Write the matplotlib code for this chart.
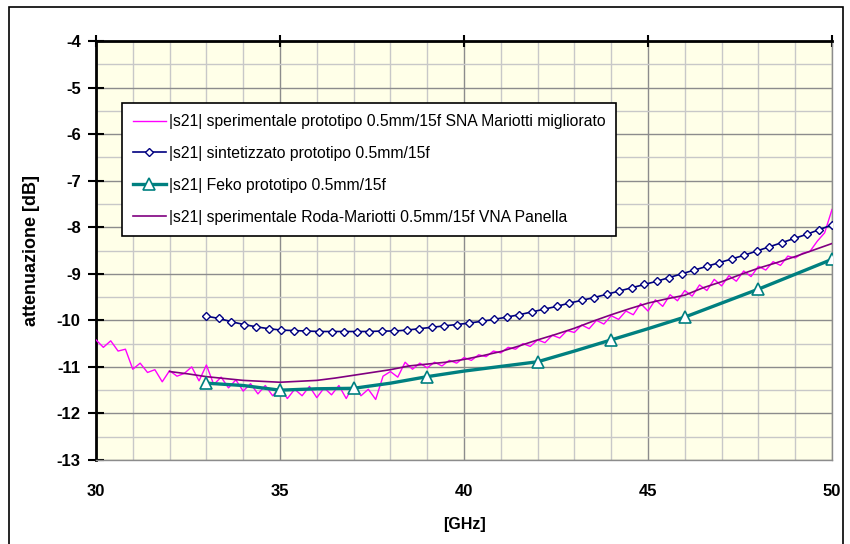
import numpy as np
import matplotlib
matplotlib.use("Agg")
from matplotlib import pyplot as plt
from matplotlib.patches import Rectangle
from matplotlib.ticker import MultipleLocator

plt.rcParams["axes.unicode_minus"] = False

# |s21| sperimentale prototipo SNA (magenta), every 0.2 GHz from 30 to 50
sna_f = np.linspace(30, 50, 101)
sna_db = [-10.42, -10.58, -10.44, -10.66, -10.62, -11.05, -10.92, -11.12, -11.06, -11.32,
          -11.08, -11.20, -11.14, -11.00, -11.30, -10.96, -11.38, -11.22, -11.45, -11.28,
          -11.52, -11.36, -11.58, -11.40, -11.62, -11.44, -11.68, -11.48, -11.62, -11.42,
          -11.66, -11.45, -11.60, -11.40, -11.68, -11.38, -11.62, -11.48, -11.70, -11.20,
          -11.10, -11.22, -10.90, -11.05, -10.92, -11.02, -10.90, -10.98, -10.86, -10.92,
          -10.80, -10.86, -10.74, -10.78, -10.66, -10.70, -10.58, -10.62, -10.50, -10.56,
          -10.42, -10.48, -10.32, -10.38, -10.22, -10.26, -10.10, -10.18, -10.00, -10.08,
          -9.90, -9.98, -9.80, -9.88, -9.64, -9.80, -9.56, -9.70, -9.45, -9.58,
          -9.36, -9.48, -9.24, -9.36, -9.12, -9.26, -9.04, -9.16, -8.94, -9.06,
          -8.84, -8.92, -8.74, -8.82, -8.62, -8.66, -8.56, -8.52, -8.30, -8.12,
          -7.62]

# |s21| sintetizzato (blue diamonds), 51 points from 33 to 50
sint_f = np.linspace(33, 50, 51)
sint_db = [-9.91, -9.96, -10.03, -10.09, -10.14, -10.18, -10.21, -10.22, -10.23, -10.24,
           -10.24, -10.24, -10.24, -10.24, -10.23, -10.23, -10.21, -10.18, -10.15, -10.12,
           -10.09, -10.06, -10.02, -9.98, -9.93, -9.88, -9.82, -9.76, -9.70, -9.63,
           -9.57, -9.51, -9.44, -9.37, -9.30, -9.23, -9.16, -9.08, -9.00, -8.92,
           -8.84, -8.76, -8.68, -8.60, -8.51, -8.42, -8.33, -8.24, -8.15, -8.05,
           -7.95]

# |s21| Feko (teal triangles), 1 GHz steps
feko_f = np.arange(33, 51)
feko_db = [-11.35, -11.40, -11.50, -11.47, -11.46, -11.35, -11.21, -11.09, -10.99, -10.89,
           -10.66, -10.42, -10.18, -9.93, -9.63, -9.33, -9.01, -8.69]
feko_marks = [0, 2, 4, 6, 9, 11, 13, 15, 17]

# |s21| Roda-Mariotti VNA (purple), 0.5 GHz steps
vna_f = np.arange(32, 50.5, 0.5)
vna_db = [-11.10, -11.15, -11.21, -11.25, -11.29, -11.31, -11.33, -11.31, -11.29, -11.24,
          -11.18, -11.12, -11.06, -10.98, -10.94, -10.90, -10.84, -10.76, -10.67, -10.55,
          -10.42, -10.30, -10.17, -10.02, -9.88, -9.75, -9.63, -9.54, -9.46, -9.30,
          -9.17, -9.02, -8.88, -8.76, -8.63, -8.49, -8.35]

labels = ["|s21| sperimentale prototipo 0.5mm/15f SNA Mariotti migliorato",
          "|s21| sintetizzato prototipo 0.5mm/15f",
          "|s21| Feko prototipo 0.5mm/15f",
          "|s21| sperimentale Roda-Mariotti 0.5mm/15f VNA Panella"]

font = ["Liberation Sans", "DejaVu Sans"]

fig = plt.figure(figsize=(8.5, 5.44), dpi=100)
ax = fig.add_axes([96/850, 1-460/544, 736/850, 419/544])
ax.set_facecolor("#FFFFE8")

ax.plot(sna_f, sna_db, color="#FF00FF", lw=1.0, label=labels[0], zorder=3)
ax.plot(sint_f, sint_db, color="#000080", lw=1.2, marker="D", ms=4.5,
        mfc="white", mec="#000080", mew=1.0, label=labels[1], zorder=5)
ax.plot(feko_f, feko_db, color="#008080", lw=2.4, marker="^", ms=8.5,
        mfc="white", mec="#008080", mew=1.2, markevery=feko_marks,
        label=labels[2], zorder=4)
ax.plot(vna_f, vna_db, color="#800080", lw=1.2, label=labels[3], zorder=3)

ax.set_xlim(30, 50)
ax.set_ylim(-13, -4)
ax.xaxis.set_major_locator(MultipleLocator(5))
ax.xaxis.set_minor_locator(MultipleLocator(1))
ax.yaxis.set_major_locator(MultipleLocator(1))
ax.yaxis.set_minor_locator(MultipleLocator(0.5))
ax.grid(which="minor", color="#C8C8C8", lw=1.0, zorder=0)
ax.grid(which="major", color="#8C8C8C", lw=1.0, zorder=0)
ax.set_axisbelow(True)

for s in ["left", "top"]:
    ax.spines[s].set_color("black")
    ax.spines[s].set_linewidth(2)
for s in ["right", "bottom"]:
    ax.spines[s].set_color("#8C8C8C")
    ax.spines[s].set_linewidth(1)

ax.tick_params(axis="x", which="major", top=True, bottom=False, labeltop=False,
               labelbottom=True, direction="inout", length=9, width=1.5, pad=13)
ax.tick_params(axis="x", which="minor", top=False, bottom=False)
ax.tick_params(axis="y", which="major", direction="inout", length=12, width=1.5, pad=5)
ax.tick_params(axis="y", which="minor", left=False)
for t in ax.get_xticklabels() + ax.get_yticklabels():
    t.set_family(font)
    t.set_fontweight("bold")
    t.set_fontsize(12)

ax.set_xlabel("[GHz]", family=font, fontweight="bold", fontsize=11.5, labelpad=13)
ax.set_ylabel("attenuazione [dB]", family=font, fontweight="bold", fontsize=13, labelpad=12)

leg = ax.legend(loc="upper left", bbox_to_anchor=(0.035, 0.852),
                prop={"family": "Liberation Sans", "size": 11.3},
                frameon=True, fancybox=False, framealpha=1, edgecolor="black",
                handlelength=2.1, handletextpad=0.2, labelspacing=1.08,
                borderpad=0.7, borderaxespad=0)
leg.get_frame().set_linewidth(1.2)
leg.set_zorder(10)

# outer chart frame
fig.add_artist(Rectangle((9/850, -0.05), 834/850, 1.05-7/544, transform=fig.transFigure,
                         fill=False, edgecolor="black", lw=1.2, clip_on=False))

fig.savefig("out.png", dpi=100)
